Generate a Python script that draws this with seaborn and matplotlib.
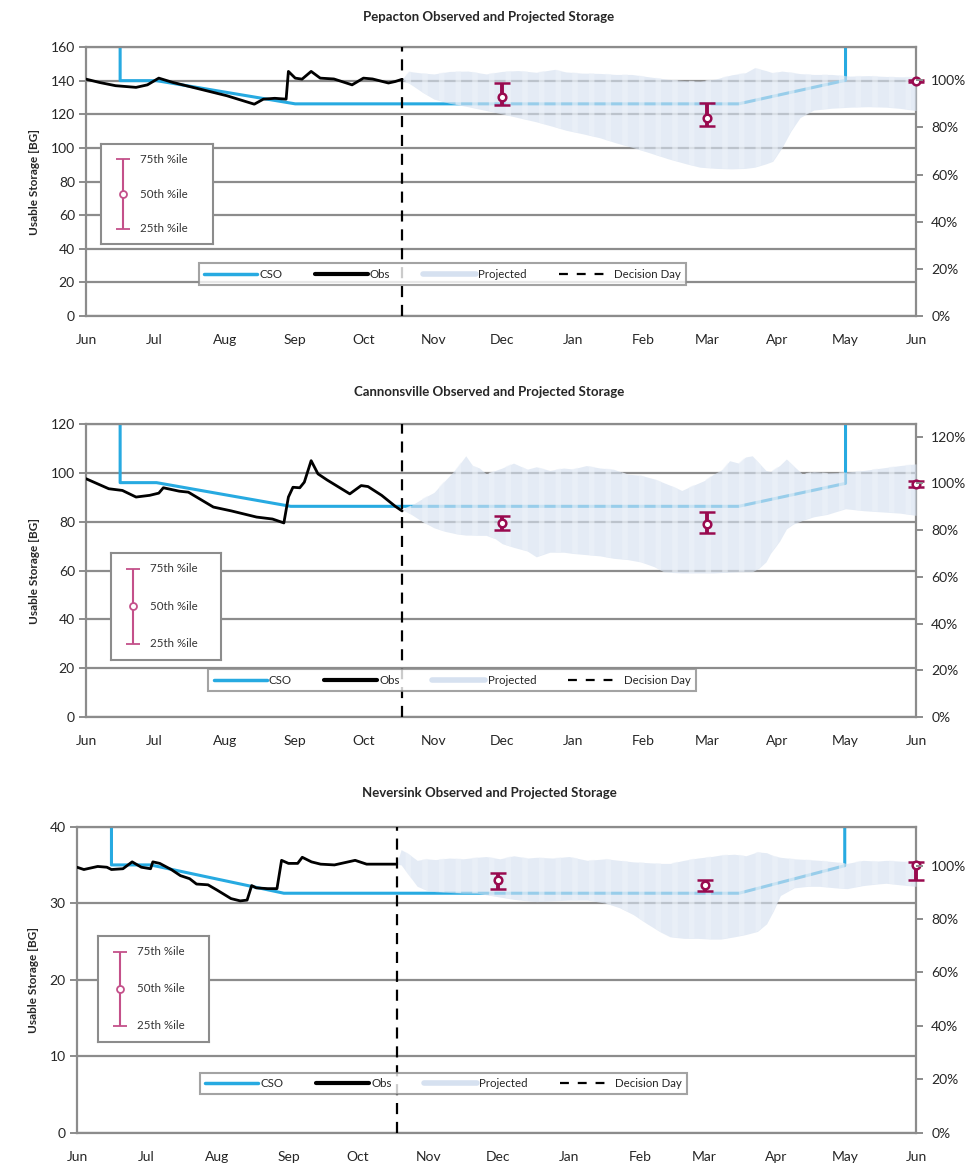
import numpy as np
import pandas as pd
import matplotlib
matplotlib.use("Agg")
import matplotlib.pyplot as plt
import seaborn as sns
from matplotlib.lines import Line2D
from matplotlib.ticker import PercentFormatter

# %% data  (x = days counted from Jun 1)
month_days   = [0, 30, 61, 92, 122, 153, 183, 214, 245, 273, 304, 334, 365]
month_labels = ["Jun", "Jul", "Aug", "Sep", "Oct", "Nov", "Dec",
                "Jan", "Feb", "Mar", "Apr", "May", "Jun"]
decision_day = 139
pct_days     = [183, 273, 365]

# Pepacton
pep_title     = "Pepacton Observed and Projected Storage"
pep_capacity  = 140.2
pep_ymax      = 160
pep_obs_days  = [0, 6, 13, 22, 27, 32, 38, 50, 62, 74, 78, 83, 88, 89, 92, 95, 99, 103, 109, 117, 122, 126, 133, 136, 139]
pep_obs_vals  = [140.9, 138.9, 137.0, 136.0, 137.5, 141.5, 139.0, 135.0, 131.0, 126.0, 129.0, 129.5, 129.0, 145.5, 141.5, 140.9, 145.5, 141.5, 141.0, 137.5, 141.5, 141.0, 138.6, 139.5, 140.8]
pep_cso_days  = [15, 15, 31, 92, 287, 334, 334]
pep_cso_vals  = [160, 140, 140, 126.2, 126.2, 140.2, 160]
pep_proj_days = [139, 142, 148, 153, 160, 168, 176, 183, 190, 198, 206, 211, 218, 226, 233, 240, 248, 256, 264, 270, 277, 284, 290, 294, 299, 302, 306, 310, 314, 320, 328, 336, 344, 352, 358, 365]
pep_proj_hi   = [140.9, 145.5, 144.5, 144.0, 145.5, 145.7, 144.0, 145.5, 146.0, 145.0, 146.7, 145.2, 144.5, 144.3, 143.7, 143.7, 142.2, 140.8, 140.0, 139.8, 141.0, 143.5, 144.7, 147.7, 146.0, 144.7, 145.7, 145.0, 144.2, 143.7, 143.7, 142.7, 143.0, 142.5, 142.3, 142.3]
pep_proj_lo   = [140.0, 138.5, 133.0, 129.0, 126.5, 124.5, 122.2, 120.2, 118.0, 115.5, 112.5, 110.5, 108.5, 106.0, 103.0, 100.4, 97.0, 93.5, 90.5, 88.5, 87.8, 87.5, 87.8, 88.5, 90.5, 92.0, 100.0, 110.0, 118.0, 122.5, 123.6, 124.2, 124.5, 124.2, 123.5, 122.2]
pep_p25       = [125.4, 113.0, 139.2]
pep_p50       = [130.5, 118.0, 139.8]
pep_p75       = [138.8, 126.9, 140.3]

# Cannonsville
can_title     = "Cannonsville Observed and Projected Storage"
can_capacity  = 95.7
can_ymax      = 120
can_obs_days  = [0, 10, 16, 22, 28, 32, 34, 41, 45, 56, 64, 75, 82, 87, 89, 91, 94, 96, 99, 102, 106, 116, 121, 124, 130, 136, 139]
can_obs_vals  = [97.6, 93.5, 92.8, 90.1, 90.8, 91.7, 93.9, 92.5, 92.1, 86.0, 84.4, 81.9, 81.1, 79.5, 90.1, 94.1, 93.9, 96.2, 105.0, 99.6, 97.1, 91.4, 94.8, 94.4, 90.8, 86.3, 84.4]
can_cso_days  = [15, 15, 31, 90, 287, 334, 334]
can_cso_vals  = [120, 96, 96, 86.3, 86.3, 95.7, 120]
can_proj_days = [139, 143, 148, 153, 158, 163, 167, 170, 173, 176, 180, 183, 188, 194, 198, 204, 210, 214, 220, 226, 232, 238, 244, 250, 254, 258, 262, 266, 272, 276, 280, 283, 287, 290, 293, 296, 299, 301, 305, 308, 311, 315, 320, 326, 334, 342, 350, 358, 365]
can_proj_hi   = [85.0, 86.7, 89.5, 92.0, 97.0, 102.0, 107.0, 103.0, 102.0, 99.6, 101.0, 102.0, 104.0, 101.5, 102.5, 101.0, 102.0, 101.6, 103.0, 102.0, 101.5, 99.5, 99.0, 97.5, 96.0, 94.5, 92.8, 94.5, 96.9, 99.5, 101.5, 105.0, 104.0, 106.5, 107.0, 104.0, 101.0, 100.5, 103.0, 105.7, 103.0, 99.6, 100.5, 100.0, 100.3, 101.0, 102.0, 103.0, 103.7]
can_proj_lo   = [85.0, 83.0, 80.0, 77.5, 76.0, 75.0, 74.5, 74.5, 74.4, 74.4, 73.0, 71.0, 69.5, 68.0, 65.6, 67.5, 67.5, 67.0, 66.5, 66.0, 65.0, 64.5, 63.5, 61.5, 59.5, 59.2, 59.0, 59.0, 59.0, 59.0, 59.2, 59.3, 59.5, 59.5, 59.5, 61.0, 63.5, 67.0, 72.0, 77.0, 79.0, 80.5, 82.0, 83.0, 85.3, 84.5, 84.0, 83.5, 82.6]
can_p25       = [76.5, 75.4, 94.3]
can_p50       = [79.5, 79.2, 95.6]
can_p75       = [82.2, 84.0, 96.8]

# Neversink
nev_title     = "Neversink Observed and Projected Storage"
nev_capacity  = 34.9
nev_ymax      = 40
nev_obs_days  = [0, 3, 9, 13, 15, 20, 24, 28, 32, 33, 36, 41, 45, 49, 52, 57, 61, 67, 71, 74, 76, 78, 83, 87, 89, 92, 96, 98, 102, 106, 112, 121, 126, 139]
nev_obs_vals  = [34.7, 34.4, 34.8, 34.7, 34.4, 34.5, 35.4, 34.7, 34.5, 35.4, 35.2, 34.4, 33.6, 33.2, 32.5, 32.4, 31.7, 30.6, 30.3, 30.4, 32.3, 32.0, 31.9, 31.9, 35.6, 35.2, 35.2, 36.0, 35.4, 35.1, 35.0, 35.6, 35.1, 35.1]
nev_cso_days  = [15, 15, 32, 90, 288, 334, 334]
nev_cso_vals  = [40, 35.0, 35.0, 31.3, 31.3, 34.9, 40]
nev_proj_days = [139, 141, 144, 148, 152, 156, 162, 168, 174, 178, 184, 190, 196, 200, 207, 214, 222, 230, 236, 242, 248, 254, 258, 264, 270, 276, 280, 286, 291, 296, 300, 303, 306, 312, 318, 323, 330, 335, 342, 348, 352, 358, 365]
nev_proj_hi   = [35.1, 37.0, 36.5, 35.6, 35.8, 35.7, 35.9, 35.8, 36.0, 36.1, 35.8, 36.2, 35.9, 36.0, 35.9, 36.1, 35.6, 35.8, 35.6, 35.4, 35.3, 35.2, 35.2, 35.6, 35.9, 36.1, 36.3, 36.4, 36.2, 36.7, 36.6, 36.2, 36.0, 35.8, 35.7, 35.6, 35.4, 35.2, 35.6, 35.5, 35.6, 35.5, 35.4]
nev_proj_lo   = [35.1, 35.0, 33.8, 32.2, 31.7, 31.5, 31.4, 31.3, 31.3, 31.1, 30.8, 30.5, 30.3, 30.2, 30.3, 30.4, 30.4, 30.0, 29.4, 28.5, 27.3, 26.2, 25.6, 25.4, 25.4, 25.3, 25.3, 25.6, 25.9, 26.3, 27.3, 29.0, 31.0, 32.0, 32.2, 32.2, 32.0, 31.9, 32.3, 32.5, 32.6, 32.4, 32.2]
nev_p25       = [31.9, 31.6, 33.0]
nev_p50       = [33.0, 32.4, 35.0]
nev_p75       = [33.9, 33.0, 35.4]

# %% style
sns.set_theme(style="white")
plt.rcParams["font.family"] = ["Lato", "DejaVu Sans"]
plt.rcParams["hatch.linewidth"] = 4

CSO_C  = "#27aae1"
PROJ_C = "#d6e1f0"
STRIPE = "#edf2f9"
PCT_C  = "#990a4f"
LEG_C  = "#c4508a"
GRID_C = "#8c8c8c"
TXT_C  = "#262626"

fig = plt.figure(figsize = (9.72, 11.64), dpi = 100)

panels = [
    dict(title = pep_title, cap = pep_capacity, ymax = pep_ymax, step = 20,
         obs = (pep_obs_days, pep_obs_vals), cso = (pep_cso_days, pep_cso_vals),
         proj = (pep_proj_days, pep_proj_hi, pep_proj_lo), pct = (pep_p25, pep_p50, pep_p75),
         pos = [0.0885, 0.7285, 0.8539, 0.2311], title_y = 1 - 17 / 1164,
         leg = (0.4295, 0.156), inset = [0.018, 0.268, 0.135, 0.371], pmax = 1.0),
    dict(title = can_title, cap = can_capacity, ymax = can_ymax, step = 20,
         obs = (can_obs_days, can_obs_vals), cso = (can_cso_days, can_cso_vals),
         proj = (can_proj_days, can_proj_hi, can_proj_lo), pct = (can_p25, can_p50, can_p75),
         pos = [0.0885, 0.3840, 0.8539, 0.2517], title_y = 1 - 392 / 1164,
         leg = (0.441, 0.126), inset = [0.030, 0.195, 0.133, 0.365], pmax = 1.2),
    dict(title = nev_title, cap = nev_capacity, ymax = nev_ymax, step = 10,
         obs = (nev_obs_days, nev_obs_vals), cso = (nev_cso_days, nev_cso_vals),
         proj = (nev_proj_days, nev_proj_hi, nev_proj_lo), pct = (nev_p25, nev_p50, nev_p75),
         pos = [0.0792, 0.0269, 0.8632, 0.2629], title_y = 1 - 793 / 1164,
         leg = (0.437, 0.16), inset = [0.025, 0.297, 0.132, 0.347], pmax = 1.0),
]

for p in panels:
    ax = fig.add_axes(p["pos"])
    ax.set_xlim(0, 365)
    ax.set_ylim(0, p["ymax"])

    # grid
    for yv in np.arange(0, p["ymax"] + 0.1, p["step"]):
        ax.axhline(yv, color = GRID_C, lw = 1.6, zorder = 0)

    # CSO line
    cso = pd.DataFrame({"day": p["cso"][0], "val": p["cso"][1]})
    sns.lineplot(data = cso, x = "day", y = "val", ax = ax, color = CSO_C, lw = 2.2,
                 estimator = None, sort = False, zorder = 2)

    # projected band (striped, semi transparent)
    pdays, phi, plo = p["proj"]
    ax.fill_between(pdays, plo, phi, color = PROJ_C, alpha = 0.65, lw = 0, zorder = 3)
    ax.fill_between(pdays, plo, phi, facecolor = "none", edgecolor = STRIPE,
                    hatch = "|", lw = 0, alpha = 0.6, zorder = 3)

    # observed
    obs = pd.DataFrame({"day": p["obs"][0], "val": p["obs"][1]})
    sns.lineplot(data = obs, x = "day", y = "val", ax = ax, color = "black", lw = 2.0,
                 estimator = None, sort = False, zorder = 4)

    # decision day
    ax.axvline(decision_day, color = "black", lw = 1.6, ls = (0, (5, 3.5)), zorder = 5)

    # percentiles
    p25, p50, p75 = [np.array(v) for v in p["pct"]]
    ax.errorbar(pct_days, p50, yerr = [p50 - p25, p75 - p50], fmt = "o", color = PCT_C,
                mfc = "white", mec = PCT_C, ms = 5.5, mew = 1.8, elinewidth = 2.8,
                capsize = 6, capthick = 5, zorder = 6, clip_on = False)

    # axes cosmetics
    for s in ax.spines.values():
        s.set_color(GRID_C)
        s.set_linewidth(1.6)
    ax.set_xticks(month_days)
    ax.set_xticklabels(month_labels)
    ax.set_yticks(np.arange(0, p["ymax"] + 0.1, p["step"]))
    ax.tick_params(axis = "both", direction = "out", length = 5, width = 1.4, color = GRID_C,
                   labelsize = 10, labelcolor = TXT_C, pad = 3)
    ax.tick_params(axis = "x", pad = 8)
    ax.set_xlabel("")
    ax.set_ylabel("Usable Storage [BG]", fontsize = 8.5, fontweight = "bold", color = TXT_C, labelpad = 8)

    # right axis as percent of capacity
    ax2 = ax.twinx()
    ax2.set_ylim(0, p["ymax"] / p["cap"])
    ax2.set_yticks(np.arange(0, p["pmax"] + 0.01, 0.2))
    ax2.yaxis.set_major_formatter(PercentFormatter(1.0, decimals = 0))
    ax2.tick_params(axis = "y", direction = "out", length = 5, width = 1.4, color = GRID_C,
                    labelsize = 10, labelcolor = TXT_C, pad = 6)
    for s in ax2.spines.values():
        s.set_visible(False)

    # title
    fig.text(0.503, p["title_y"], p["title"], ha = "center", va = "center",
             fontsize = 9.5, fontweight = "bold", color = TXT_C)

    # main legend
    handles = [Line2D([], [], color = CSO_C, lw = 2.5),
               Line2D([], [], color = "black", lw = 3),
               Line2D([], [], color = PROJ_C, lw = 4),
               Line2D([], [], color = "black", lw = 1.6, ls = (0, (4, 4)))]
    leg = ax.legend(handles, ["CSO", "Obs", "Projected", "Decision Day"], ncol = 4,
                    loc = "center", bbox_to_anchor = p["leg"], fontsize = 8.3,
                    handlelength = 4.6, handletextpad = 0.2, columnspacing = 2.8,
                    frameon = True, fancybox = False, borderpad = 0.45)
    leg.get_frame().set_edgecolor(GRID_C)
    leg.get_frame().set_linewidth(1.5)
    leg.set_zorder(7)

    # percentile key
    ins = ax.inset_axes(p["inset"])
    ins.set_xlim(0, 1)
    ins.set_ylim(0, 1)
    ins.set_xticks([])
    ins.set_yticks([])
    ins.set_facecolor("white")
    for s in ins.spines.values():
        s.set_color(GRID_C)
        s.set_linewidth(1.5)
    ins.errorbar([0.2], [0.5], yerr = [[0.35], [0.35]], fmt = "o", color = LEG_C, mfc = "white",
                 mec = LEG_C, ms = 5, mew = 1.3, elinewidth = 1.5, capsize = 5, capthick = 1.8)
    for yy, lab in zip([0.85, 0.5, 0.15], ["75th %ile", "50th %ile", "25th %ile"]):
        ins.text(0.35, yy, lab, fontsize = 8.3, color = "#333333", va = "center")
    ins.set_zorder(7)

fig.savefig("out.png", dpi = 100)
